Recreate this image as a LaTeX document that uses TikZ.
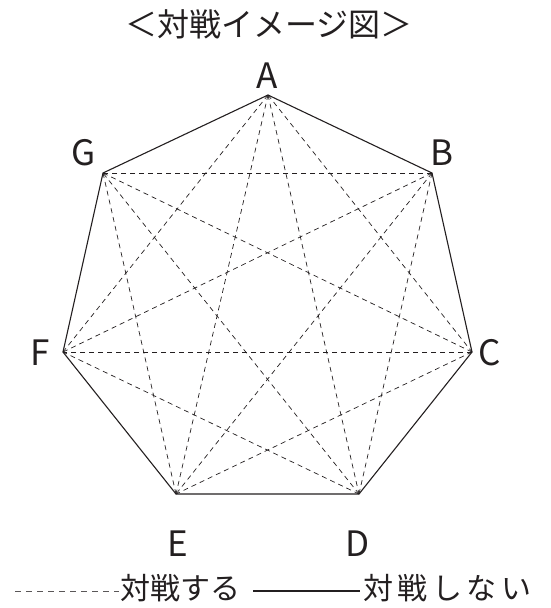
\documentclass[tikz,border=0pt]{standalone}
\usepackage{fontspec}
\setmainfont{Noto Sans CJK JP}
\newfontfamily\jpwide[LetterSpace=15]{Noto Sans CJK JP}
\definecolor{ink}{HTML}{231F20}
\begin{document}
\begin{tikzpicture}[x=1pt,y=-1pt,
  edge/.style={line width=1.1pt,draw=ink},
  diag/.style={line width=0.7pt,draw=ink,dash pattern=on 5pt off 4pt},
  lbl/.style={font=\fontsize{35}{40}\selectfont,text=ink,inner sep=0pt},
  jp/.style={font=\fontsize{30}{34}\selectfont,text=ink,inner sep=0pt}]
\useasboundingbox (0,0) rectangle (550,608);
\coordinate (A) at (268,95);
\coordinate (B) at (432,173);
\coordinate (C) at (472,352);
\coordinate (D) at (359,494);
\coordinate (E) at (176,494);
\coordinate (F) at (63,352);
\coordinate (G) at (103,173);
\foreach \p/\q in {A/C,A/D,A/E,A/F,B/D,B/E,B/F,B/G,C/E,C/F,C/G,D/F,D/G,E/G}
  \draw[diag] (\p) -- (\q);
\draw[edge] (A) -- (B) -- (C) -- (D) -- (E) -- (F) -- (G) -- cycle;
\node[jp,font=\fontsize{32}{36}\selectfont] (title) at (269,24) {＜対戦イメージ図＞};
\node[lbl] (la) at (267,76) {A};
\node[lbl] (lb) at (442,153) {B};
\node[lbl] (lc) at (490,353) {C};
\node[lbl] (ld) at (358,544) {D};
\node[lbl] (le) at (178,544) {E};
\node[lbl] (lf) at (40,353) {F};
\node[lbl] (lg) at (84,153) {G};
\node[jp,anchor=west] (t1) at (120,588) {対戦する};
\node[jp,anchor=west,font=\jpwide\fontsize{30}{34}\selectfont] (t2) at (363,588) {対戦しない};
\coordinate (d0) at (15,591);
\draw[diag,dash pattern=on 6pt off 5pt,draw=ink!75] (d0) -- ([xshift=-1pt]t1.west |- d0);
\coordinate (s0) at (253,591);
\draw[line width=1.1pt,draw=ink] (s0) -- ([xshift=-3pt]t2.west |- s0);
\end{tikzpicture}
\end{document}
